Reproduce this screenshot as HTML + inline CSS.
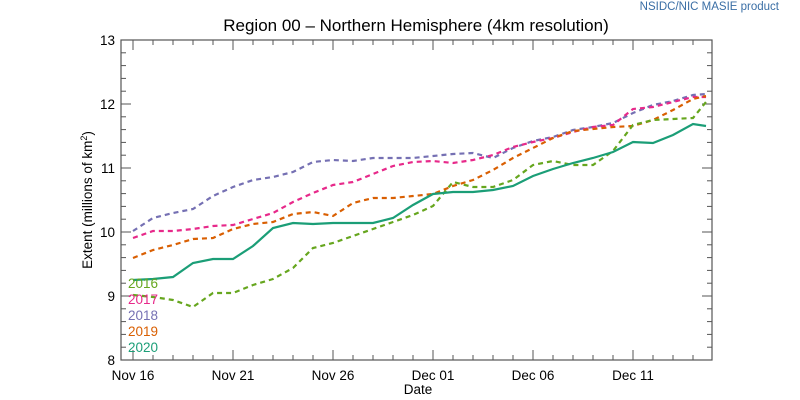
<!DOCTYPE html>
<html><head><meta charset="utf-8"><style>
html,body{margin:0;padding:0;background:#fff;}
svg{display:block;font-family:"Liberation Sans",sans-serif;}
</style></head><body>
<svg width="800" height="400" viewBox="0 0 800 400" xmlns="http://www.w3.org/2000/svg">
<text x="779" y="10" font-size="11.5" fill="#3a6ea5" text-anchor="end">NSIDC/NIC MASIE product</text>
<text x="416" y="31" font-size="17" text-anchor="middle" fill="#000">Region 00 – Northern Hemisphere (4km resolution)</text>
<g id="ticks" stroke="#555" stroke-width="1" fill="none"></g>
<rect x="121" y="40" width="591" height="320" fill="none" stroke="#555" stroke-width="1.2"/>
<g font-size="13.5" fill="#000" text-anchor="end">
<text x="115" y="365">8</text><text x="115" y="301">9</text><text x="115" y="237">10</text>
<text x="115" y="173">11</text><text x="115" y="109">12</text><text x="115" y="45">13</text>
</g>
<g font-size="13.5" fill="#000" text-anchor="middle">
<text x="133" y="380">Nov 16</text><text x="233" y="380">Nov 21</text><text x="333" y="380">Nov 26</text>
<text x="433" y="380">Dec 01</text><text x="533" y="380">Dec 06</text><text x="633" y="380">Dec 11</text>
<text x="418" y="394">Date</text>
</g>
<text transform="translate(92,200) rotate(-90)" font-size="13.5" text-anchor="middle">Extent (millions of km<tspan font-size="9" dy="-5">2</tspan><tspan dy="5">)</tspan></text>
<g fill="none" stroke-width="2.2">
<polyline stroke="#7570b3" stroke-dasharray="5,4" points="133,231 153,218 173,213 193,209 213,196 233,187 253,180 273,177 293,172 313,162 333,160 353,161 373,158 393,158 413,158 433,156 453,154 473,153 493,158 513,148 533,141 553,137 573,130 593,127 613,123 633,113 653,105 673,101 693,95 706,94"/>
<polyline stroke="#e7298a" stroke-dasharray="5,4" points="133,238 153,231 173,231 193,229 213,226 233,225 253,219 273,213 293,202 313,193 333,185 353,182 373,174 393,166 413,162 433,161 453,163 473,160 493,155 513,147 533,142 553,138 573,132 593,127 613,125 633,109 653,107 673,102 693,97 706,97"/>
<polyline stroke="#d95f02" stroke-dasharray="5,4" points="133,258 153,250 173,245 193,239 213,238 233,229 253,224 273,222 293,214 313,212 333,216 353,203 373,198 393,198 413,196 433,194 453,186 473,180 493,170 513,158 533,148 553,138 573,131 593,129 613,127 633,126 653,120 673,110 693,99 706,96"/>
<polyline stroke="#66a61e" stroke-dasharray="5,4" points="133,295 153,297 173,300 193,307 213,293 233,293 253,285 273,279 293,268 313,248 333,243 353,236 373,229 393,222 413,215 433,206 453,182 473,187 493,187 513,180 533,165 553,161 573,165 593,165 613,151 633,125 653,120 673,119 693,118 706,102"/>
<polyline stroke="#1b9e77" points="133,280 153,279 173,277 193,263 213,259 233,259 253,246 273,228 293,223 313,224 333,223 353,223 373,223 393,218 413,205 433,194 453,192 473,192 493,190 513,186 533,176 553,169 573,163 593,158 613,152 633,142 653,143 673,135 693,124 706,126"/>
</g>
<g font-size="13.5">
<text x="128" y="288" fill="#66a61e">2016</text>
<text x="128" y="304" fill="#e7298a">2017</text>
<text x="128" y="320" fill="#7570b3">2018</text>
<text x="128" y="336" fill="#d95f02">2019</text>
<text x="128" y="352" fill="#1b9e77">2020</text>
</g>
</svg>
<script>
var g=document.getElementById('ticks'),s='';
for(var d=0;d<=28;d++){var x=133+20*d;var L=(d%5==0)?10:5;
s+='<line x1="'+x+'" y1="360" x2="'+x+'" y2="'+(360-L)+'"/><line x1="'+x+'" y1="40" x2="'+x+'" y2="'+(40+L)+'"/>';}
for(var i=0;i<=25;i++){var y=360-12.8*i;var L=(i%5==0)?10:5;
s+='<line x1="121" y1="'+y+'" x2="'+(121+L)+'" y2="'+y+'"/><line x1="712" y1="'+y+'" x2="'+(712-L)+'" y2="'+y+'"/>';}
g.innerHTML=s;
</script>
</body></html>
